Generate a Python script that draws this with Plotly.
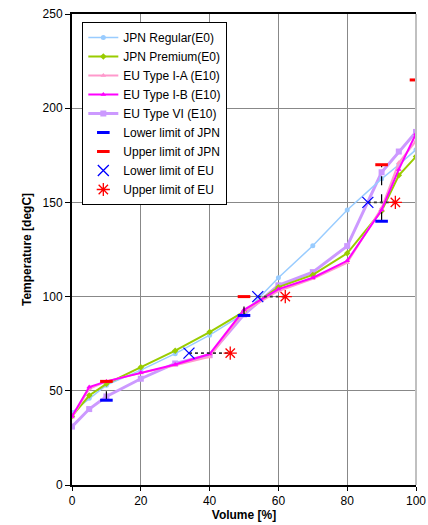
import plotly.graph_objects as go

# Distillation points (% volume evaporated)
vol = [0, 5, 10, 20, 30, 40, 50, 60, 70, 80, 90, 95, 100]

# Distillation temperatures [degC]
jpn_regular = [38.5, 46, 53, 61, 69.7, 79.5, 91, 110, 127, 146, 162.5, 170, 178]
jpn_premium = [36.5, 47.5, 53.7, 62.5, 71.3, 81.2, 92, 105, 111.5, 123, 145.5, 164.4, 174.3]
eu_type_1a = [36, 51, 55, 59.5, 63.5, 68, 92, 103, 109.5, 118, 147, 171, 182.6]
eu_type_1b = [36.3, 52, 55, 59.7, 64, 69.5, 93, 104, 110, 119, 146, 167.5, 186.5]
eu_type_6 = [31, 40.3, 47, 56.4, 64.5, 69, 90.5, 106, 113, 126.8, 166, 177, 187.4]

# JPN spec: temperature limits at given % evaporated
jpn_lower_vol = [10, 50, 90]
jpn_lower = [45, 90, 140]
jpn_upper_vol = [10, 50, 90, 100]
jpn_upper = [55, 100, 170, 215]

# EU spec: % evaporated limits at given temperatures
eu_temp = [70, 100, 150]
eu_lower = [34, 54, 86]
eu_upper = [46, 62, 94]

fig = go.Figure()

series = [
    ("EU Type VI (E10)", eu_type_6, "#CC99FF", 3, "square", 6, 5),
    ("JPN Regular(E0)", jpn_regular, "#99CCFF", 1.5, "circle", 5, 1),
    ("JPN Premium(E0)", jpn_premium, "#99CC00", 2, "diamond", 5, 2),
    ("EU Type I-A (E10)", eu_type_1a, "#FF99CC", 2, "triangle-up", 5, 3),
    ("EU Type I-B (E10)", eu_type_1b, "#FF00FF", 2, "triangle-up", 5, 4),
]
for name, temps, color, width, symbol, msize, rank in series:
    fig.add_trace(go.Scatter(
        x=vol, y=temps, name=name, mode="lines+markers",
        line=dict(color=color, width=width),
        marker=dict(symbol=symbol, size=msize, color=color),
        legendrank=rank,
    ))

# Dashed connectors between the JPN lower and upper limits
for v, lo in zip(jpn_lower_vol, jpn_lower):
    hi = jpn_upper[jpn_upper_vol.index(v)]
    fig.add_trace(go.Scatter(
        x=[v, v], y=[lo, hi], mode="lines", showlegend=False, hoverinfo="skip",
        line=dict(color="black", width=1.2, dash="dash"),
    ))

# Dashed connectors between the EU lower and upper limits
for t, lo, hi in zip(eu_temp, eu_lower, eu_upper):
    fig.add_trace(go.Scatter(
        x=[lo, hi], y=[t, t], mode="lines", showlegend=False, hoverinfo="skip",
        line=dict(color="#333333", width=1.6, dash="dot"),
    ))

fig.add_trace(go.Scatter(
    x=jpn_lower_vol, y=jpn_lower, name="Lower limit of JPN", mode="markers",
    marker=dict(symbol="line-ew", size=9, line=dict(color="#0000FF", width=3)),
    legendrank=6,
))
fig.add_trace(go.Scatter(
    x=jpn_upper_vol, y=jpn_upper, name="Upper limit of JPN", mode="markers",
    marker=dict(symbol="line-ew", size=9, line=dict(color="#FF0000", width=3)),
    legendrank=7,
))
fig.add_trace(go.Scatter(
    x=eu_lower, y=eu_temp, name="Lower limit of EU", mode="markers",
    marker=dict(symbol="x-thin", size=11, line=dict(color="#0000FF", width=1.3)),
    legendrank=8,
))
fig.add_trace(go.Scatter(
    x=eu_upper, y=eu_temp, name="Upper limit of EU", mode="markers",
    marker=dict(symbol="asterisk", size=11, line=dict(color="#FF0000", width=1.3)),
    legendrank=9,
))

# Light right-hand frame line at 100 %
fig.add_shape(type="line", xref="x domain", yref="y domain",
              x0=1, x1=1, y0=0, y1=1, line=dict(color="#C0C0C0", width=2))

fig.update_layout(
    width=428, height=525,
    margin=dict(l=72, r=12, t=14, b=40),
    paper_bgcolor="white", plot_bgcolor="white",
    font=dict(family="Liberation Sans, Arial, sans-serif", size=12, color="black"),
    showlegend=True,
    legend=dict(
        x=0.03, y=0.983, xanchor="left", yanchor="top",
        bgcolor="white", bordercolor="black", borderwidth=1,
        font=dict(size=12, color="black"),
        tracegroupgap=0,
    ),
    xaxis=dict(
        range=[0, 100], tickvals=[0, 20, 40, 60, 80, 100],
        showgrid=True, gridcolor="#888888", gridwidth=1,
        showline=True, linecolor="black", linewidth=2, mirror=True,
        ticks="outside", ticklen=4, tickcolor="black",
        zeroline=False, automargin=False,
        title=dict(text="<b>Volume [%]</b>", font=dict(size=12), standoff=2),
    ),
    yaxis=dict(
        range=[0, 250], tickvals=[0, 50, 100, 150, 200, 250],
        showgrid=True, gridcolor="#888888", gridwidth=1,
        showline=True, linecolor="black", linewidth=2,
        ticks="outside", ticklen=5, tickcolor="black",
        zeroline=False, automargin=False,
        title=dict(text="<b>Temperature [degC]</b>", font=dict(size=12), standoff=8),
    ),
)

fig.write_html("out.html")
